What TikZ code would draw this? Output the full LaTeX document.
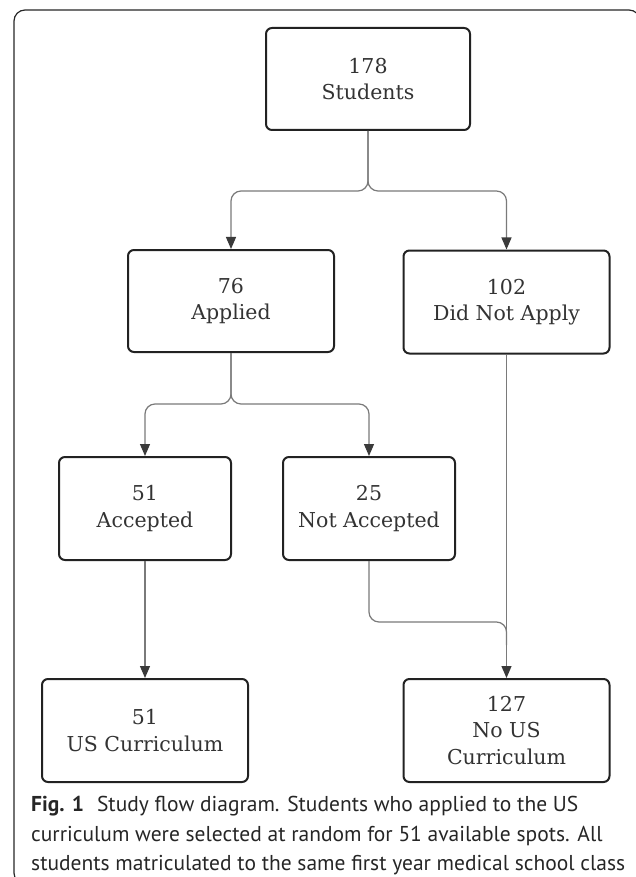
\documentclass[tikz,border=0pt]{standalone}
\usepackage{fontspec}
\setmainfont{DejaVu Serif}
\newfontfamily\capfont{PT Sans}
\usetikzlibrary{arrows.meta}
\definecolor{boxline}{HTML}{222222}
\definecolor{boxtext}{HTML}{333333}
\definecolor{conn}{HTML}{7A7A7A}
\definecolor{tipc}{HTML}{3A3A3A}
\tikzset{
  fbox/.style={draw=boxline, line width=2pt, rounded corners=6pt, align=center,
    text=boxtext, inner sep=0pt, font=\fontsize{20.5}{26.5}\selectfont},
  conn/.style={draw=conn, line width=1.2pt, rounded corners=10pt},
  arr/.style={conn, -{Triangle[width=10pt,length=12pt,fill=tipc,color=tipc]}},
  frame/.style={draw=black!85, line width=1.2pt, rounded corners=11pt}
}
\begin{document}
\begin{tikzpicture}[x=1pt,y=-1pt]
\useasboundingbox (0,0) rectangle (636,877);
\begin{scope}
\clip (0,0) rectangle (636,877);
\draw[frame] (40,884) -- (14,884) -- (14,10) -- (640,10) -- (640,40);
\end{scope}
% boxes
\node[fbox, minimum width=204pt, minimum height=102pt] (stu) at (368,79) {178\\Students};
\node[fbox, minimum width=206pt, minimum height=102pt] (app) at (231,301) {76\\Applied};
\node[fbox, minimum width=206pt, minimum height=103pt] (dna) at (506.5,302) {102\\Did Not Apply};
\node[fbox, minimum width=172pt, minimum height=103pt] (acc) at (145,508.5) {51\\Accepted};
\node[fbox, minimum width=172pt, minimum height=103pt] (nacc) at (369,508.5) {25\\Not Accepted};
\node[fbox, minimum width=206pt, minimum height=103pt] (usc) at (145,730.5) {51\\US Curriculum};
\node[fbox, minimum width=206pt, minimum height=103pt] (nusc) at (506.5,730.5) {127\\No US\\Curriculum};
\coordinate (merge) at (506.5,645);
% connectors
\draw[arr] (stu.south) -- ++(0,60) -| (app.north);
\draw[arr] (stu.south) -- ++(0,60) -| (dna.north);
\draw[arr] (app.south) -- ++(0,51) -| (acc.north);
\draw[arr] (app.south) -- ++(0,51) -| (nacc.north);
\draw[arr] (acc.south) -- (usc.north);
\draw[arr] (dna.south) -- (nusc.north);
\draw[conn] (nacc.south) -- ++(0,61) -| (merge);
% caption
\node[anchor=north west, inner sep=0pt, align=left, text=black!85,
  font=\capfont\fontsize{21.5}{29.5}\selectfont] (cap) at (31,796)
  {\textbf{Fig. 1}\hspace{0.6em}Study flow diagram. Students who applied to the US\\
   curriculum were selected at random for 51 available spots. All\\
   students matriculated to the same first year medical school class};
\end{tikzpicture}
\end{document}
